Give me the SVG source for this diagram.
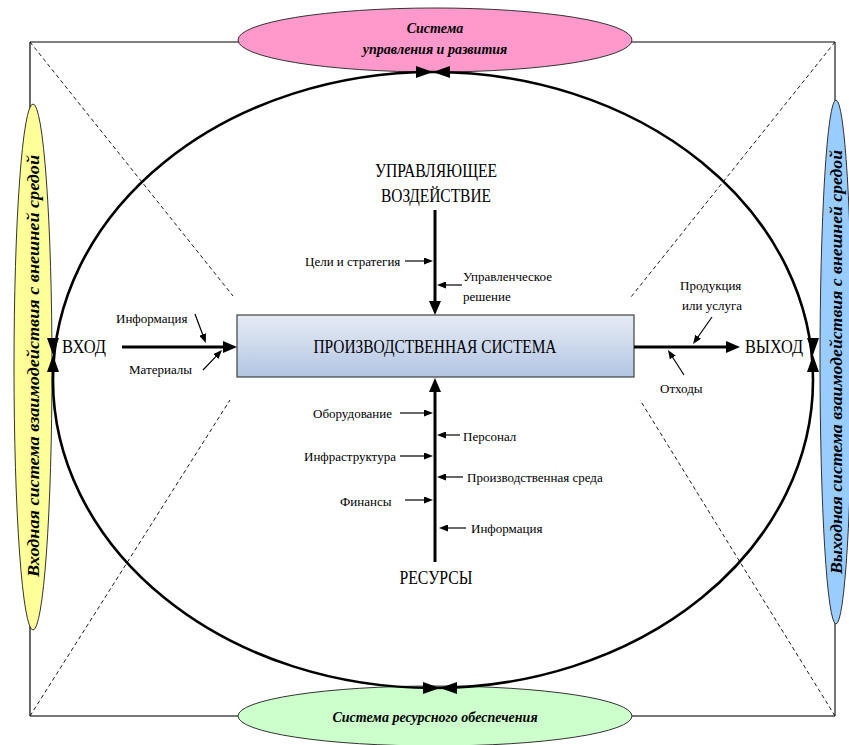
<svg xmlns="http://www.w3.org/2000/svg" width="849" height="745" viewBox="0 0 849 745">
  <defs>
    <linearGradient id="boxFill" x1="0" y1="0" x2="0" y2="1">
      <stop offset="0" stop-color="#e6ecf6"/>
      <stop offset="1" stop-color="#b3c5e2"/>
    </linearGradient>
    <marker id="bigArrow" viewBox="0 0 14 12" markerWidth="14" markerHeight="12" refX="2" refY="6" orient="auto" markerUnits="userSpaceOnUse">
      <path d="M0,0 L14,6 L0,12 z" fill="#000"/>
    </marker>
    <marker id="smallArrow" viewBox="0 0 9 7" markerWidth="9" markerHeight="7" refX="1" refY="3.5" orient="auto" markerUnits="userSpaceOnUse">
      <path d="M0,0 L9,3.5 L0,7 z" fill="#000"/>
    </marker>
  </defs>
  <style>
    text { font-family: "Liberation Serif", "Times New Roman", serif; fill: #000; }
    .cap { font-size: 18px; }
    .lbl { font-size: 13px; }
    .sys { font-size: 14px; font-style: italic; font-weight: bold; }
    .sysV { font-size: 16px; font-style: italic; font-weight: bold; }
    .frame { fill: none; stroke: #000; stroke-width: 1.2; }
    .frameGrey { fill: none; stroke: #777; stroke-width: 2; }
    .diag { fill: none; stroke: #000; stroke-width: 0.9; stroke-dasharray: 4 3; }
    .thick { stroke: #000; stroke-width: 3; fill: none; marker-end: url(#bigArrow); }
    .thin { stroke: #000; stroke-width: 1.2; fill: none; marker-end: url(#smallArrow); }
    .sysEll { stroke: #333; stroke-width: 1; }
  </style>

  <!-- outer frame and dashed corner diagonals -->
  <g id="frame">
    <line class="frame" x1="30" y1="42" x2="835" y2="42"/>
    <line class="frame" x1="30" y1="42" x2="30" y2="716"/>
    <line class="frameGrey" x1="30" y1="716" x2="835" y2="716"/>
    <line class="frameGrey" x1="835" y1="42" x2="835" y2="716"/>
    <line class="diag" x1="30" y1="42" x2="233" y2="296"/>
    <line class="diag" x1="835" y1="42" x2="631" y2="297"/>
    <line class="diag" x1="30" y1="716" x2="230" y2="400"/>
    <line class="diag" x1="835" y1="716" x2="640" y2="400"/>
  </g>

  <!-- surrounding subsystems -->
  <g id="control-system">
    <ellipse class="sysEll" cx="435" cy="40" rx="197" ry="32" fill="#ff99cc"/>
    <text class="sys" x="435" y="33" text-anchor="middle">Система</text>
    <text class="sys" x="435" y="54" text-anchor="middle">управления и развития</text>
  </g>
  <g id="resource-system">
    <ellipse class="sysEll" cx="435" cy="716" rx="197" ry="30" fill="#ccffcc"/>
    <text class="sys" x="435" y="722" text-anchor="middle">Система ресурсного обеспечения</text>
  </g>
  <g id="input-system">
    <ellipse class="sysEll" cx="33" cy="367" rx="19" ry="263" fill="#ffff99"/>
    <text class="sysV" transform="translate(39,366) rotate(-90)" x="0" y="0" text-anchor="middle" textLength="422" lengthAdjust="spacingAndGlyphs">Входная система взаимодействия с внешней средой</text>
  </g>
  <g id="output-system">
    <ellipse class="sysEll" cx="836" cy="362" rx="16" ry="262" fill="#99ccff"/>
    <text class="sysV" transform="translate(842,362) rotate(-90)" x="0" y="0" text-anchor="middle" textLength="424" lengthAdjust="spacingAndGlyphs">Выходная система взаимодействия с внешней средой</text>
  </g>

  <!-- closed loop around the production system -->
  <g id="loop">
    <ellipse cx="433" cy="380" rx="380" ry="308" fill="none" stroke="#000" stroke-width="2.6"/>
    <path d="M416,66 L433,72 L416,78 z M450,66 L433,72 L450,78 z" fill="#000"/>
    <path d="M423,682 L440,688 L423,694 z M457,682 L440,688 L457,694 z" fill="#000"/>
    <path d="M47,338 L53,355 L59,338 z M47,372 L53,355 L59,372 z" fill="#000"/>
    <path d="M807,338 L813,355 L819,338 z M807,372 L813,355 L819,372 z" fill="#000"/>
  </g>

  <!-- production system -->
  <g id="production-system">
    <rect x="237" y="315" width="397" height="62" fill="url(#boxFill)" stroke="#404040" stroke-width="1.2"/>
    <text class="cap" x="435" y="353" text-anchor="middle" font-size="17" textLength="243" lengthAdjust="spacingAndGlyphs">ПРОИЗВОДСТВЕННАЯ СИСТЕМА</text>
  </g>

  <!-- main captions -->
  <g id="control-action">
    <text class="cap" x="436" y="177" text-anchor="middle" textLength="122" lengthAdjust="spacingAndGlyphs">УПРАВЛЯЮЩЕЕ</text>
    <text class="cap" x="436" y="202" text-anchor="middle" textLength="110" lengthAdjust="spacingAndGlyphs">ВОЗДЕЙСТВИЕ</text>
  </g>
  <g id="input">
    <text class="cap" x="62" y="353" textLength="44" lengthAdjust="spacingAndGlyphs">ВХОД</text>
  </g>
  <g id="output">
    <text class="cap" x="745" y="353" textLength="58" lengthAdjust="spacingAndGlyphs">ВЫХОД</text>
  </g>
  <g id="resources">
    <text class="cap" x="436" y="584" text-anchor="middle" textLength="73" lengthAdjust="spacingAndGlyphs">РЕСУРСЫ</text>
  </g>

  <!-- side labels -->
  <g id="labels">
    <text class="lbl" x="305" y="266">Цели и стратегия</text>
    <text class="lbl" x="463" y="281">Управленческое</text>
    <text class="lbl" x="463" y="301">решение</text>
    <text class="lbl" x="116" y="323">Информация</text>
    <text class="lbl" x="129" y="374">Материалы</text>
    <text class="lbl" x="680" y="290">Продукция</text>
    <text class="lbl" x="682" y="310">или услуга</text>
    <text class="lbl" x="660" y="393">Отходы</text>
    <text class="lbl" x="313" y="418">Оборудование</text>
    <text class="lbl" x="463" y="441">Персонал</text>
    <text class="lbl" x="304" y="461">Инфраструктура</text>
    <text class="lbl" x="467" y="482">Производственная среда</text>
    <text class="lbl" x="340" y="506">Финансы</text>
    <text class="lbl" x="471" y="533">Информация</text>
  </g>

  <!-- flows -->
  <g id="connectors">
    <line class="thick" x1="435" y1="210" x2="435" y2="303"/>
    <line class="thick" x1="435" y1="562" x2="435" y2="390"/>
    <line class="thick" x1="122" y1="347" x2="225" y2="347"/>
    <line class="thick" x1="634" y1="347" x2="728" y2="347"/>

    <line class="thin" x1="405" y1="261" x2="425" y2="261"/>
    <line class="thin" x1="462" y1="285" x2="445" y2="285"/>
    <line class="thin" x1="195" y1="314" x2="203" y2="335.5"/>
    <line class="thin" x1="203" y1="370" x2="216.5" y2="355.8"/>
    <line class="thin" x1="712" y1="317" x2="697.6" y2="337.5"/>
    <line class="thin" x1="684" y1="375" x2="672.3" y2="356.7"/>
    <line class="thin" x1="400" y1="413" x2="425" y2="413"/>
    <line class="thin" x1="460" y1="435" x2="445" y2="435"/>
    <line class="thin" x1="400" y1="456" x2="425" y2="456"/>
    <line class="thin" x1="463" y1="477" x2="445" y2="477"/>
    <line class="thin" x1="405" y1="500" x2="425" y2="500"/>
    <line class="thin" x1="466" y1="528" x2="447" y2="528"/>
  </g>
</svg>
